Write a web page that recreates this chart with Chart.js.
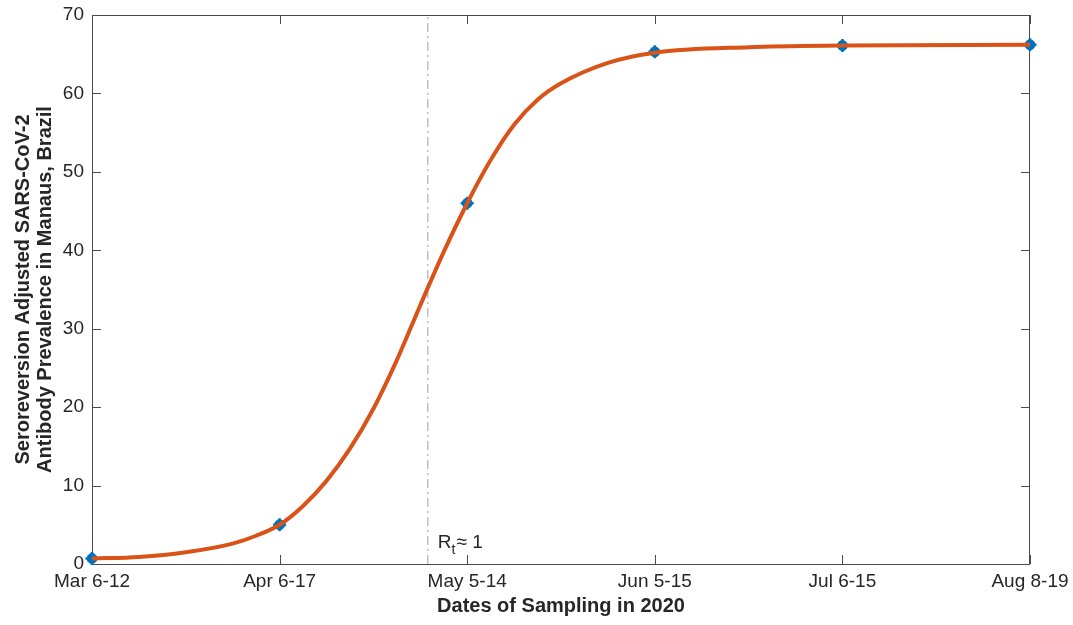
<!DOCTYPE html>
<html>
<head>
<meta charset="utf-8">
<script src="https://cdn.jsdelivr.net/npm/chart.js@4.4.1/dist/chart.umd.min.js"></script>
<style>
  html, body { margin: 0; padding: 0; background: #fff; }
  #wrap { width: 1073px; height: 625px; }
</style>
</head>
<body>
<div id="wrap"><canvas id="canvas1"></canvas></div>
<script>
// sampling rounds and measured prevalence (%)
var dateLabels = ['Mar 6-12', 'Apr 6-17', 'May 5-14', 'Jun 5-15', 'Jul 6-15', 'Aug 8-19'];
var samplePos = [0, 1, 2, 3, 4, 5];
var prevalence = [0.7, 5.0, 46.0, 65.3, 66.1, 66.2];

// fitted curve, read along its length
var fitX = [0, 0.25, 0.5, 0.75, 0.875, 1.0, 1.125, 1.25, 1.375, 1.5, 1.625, 1.75, 1.875, 2.0, 2.125, 2.25, 2.375, 2.5, 2.75, 3.0, 3.5, 4.0, 5.0];
var fitY = [0.7, 0.9, 1.5, 2.6, 3.6, 5.0, 7.4, 10.6, 14.7, 19.8, 26.0, 33.0, 39.8, 46.0, 51.5, 56.0, 59.2, 61.3, 63.9, 65.2, 65.9, 66.1, 66.2];

// week where Rt crosses 1
var rtPos = 1.79;

var blue = '#0072BD', orange = '#D95319', axisColor = '#4a4a4a';
var fontFam = '"Liberation Sans", Arial, sans-serif';

var samples = samplePos.map(function (x, i) { return { x: x, y: prevalence[i] }; });
var fitted = fitX.map(function (x, i) { return { x: x, y: fitY[i] }; });

// box around the plot area with inward ticks, plus the Rt annotation
var boxPlugin = {
    id: 'boxTicks',
    beforeDatasetsDraw: function (chart) {
        var c = chart.ctx, a = chart.chartArea;
        var xs = chart.scales.x, ys = chart.scales.y;
        c.save();
        c.strokeStyle = axisColor;
        c.lineWidth = 1;
        c.strokeRect(a.left + 0.5, a.top + 0.5, a.right - a.left - 1, a.bottom - a.top);
        c.beginPath();
        xs.ticks.forEach(function (t) {
            var px = Math.round(xs.getPixelForValue(t.value)) + 0.5;
            c.moveTo(px, a.bottom); c.lineTo(px, a.bottom - 9);
            c.moveTo(px, a.top); c.lineTo(px, a.top + 9);
        });
        ys.ticks.forEach(function (t) {
            var py = Math.round(ys.getPixelForValue(t.value)) + 0.5;
            c.moveTo(a.left, py); c.lineTo(a.left + 9, py);
            c.moveTo(a.right, py); c.lineTo(a.right - 9, py);
        });
        c.stroke();

        var lx = xs.getPixelForValue(rtPos) + 10, ly = ys.getPixelForValue(0) - 16;
        c.fillStyle = '#262626';
        c.textBaseline = 'alphabetic';
        c.font = '19px ' + fontFam;
        c.fillText('R', lx, ly);
        var w = c.measureText('R').width;
        c.font = '14px ' + fontFam;
        c.fillText('t', lx + w, ly + 6);
        c.font = '19px ' + fontFam;
        c.fillText('\u2248 1', lx + w + 5, ly);
        c.restore();
    }
};

Chart.defaults.font.family = fontFam;
Chart.defaults.color = '#262626';

var ctx1 = document.getElementById('canvas1').getContext('2d');
window.myLine = new Chart(ctx1, {
    type: 'scatter',
    data: {
        datasets: [{
            label: 'Fit',
            type: 'line',
            data: fitted,
            borderColor: orange,
            borderWidth: 4,
            pointRadius: 0,
            cubicInterpolationMode: 'monotone',
            order: 0
        }, {
            label: 'Samples',
            data: samples,
            backgroundColor: blue,
            borderColor: blue,
            pointStyle: 'circle',
            pointRadius: 5,
            borderWidth: 1,
            clip: false,
            order: 2
        }, {
            label: 'Sample bars',
            data: samples,
            borderColor: blue,
            pointStyle: 'cross',
            pointRadius: 6.5,
            borderWidth: 2.5,
            clip: false,
            order: 2
        }, {
            label: 'Rt = 1',
            type: 'line',
            data: [{ x: rtPos, y: 0 }, { x: rtPos, y: 70 }],
            borderColor: '#b0b0b0',
            borderWidth: 1.2,
            borderDash: [9, 4, 2, 4],
            pointRadius: 0,
            order: 3
        }]
    },
    options: {
        responsive: true,
        maintainAspectRatio: false,
        animation: false,
        layout: { padding: { top: 15, right: 43, left: 0, bottom: 0 } },
        plugins: {
            legend: { display: false },
            tooltip: { enabled: false }
        },
        scales: {
            x: {
                type: 'linear',
                min: 0,
                max: 5,
                grid: { display: false, drawTicks: false },
                border: { display: false },
                ticks: {
                    stepSize: 1,
                    padding: 6,
                    font: { size: 19 },
                    maxRotation: 0,
                    callback: function (v) { return dateLabels[v]; }
                },
                title: {
                    display: true,
                    text: 'Dates of Sampling in 2020',
                    font: { size: 20, weight: 'bold' },
                    padding: { top: 0, bottom: 7 }
                },
                afterFit: function (scale) {
                    scale.height = 61;
                    scale.paddingLeft = 0;
                    scale.paddingRight = 0;
                }
            },
            y: {
                min: 0,
                max: 70,
                grid: { display: false, drawTicks: false },
                border: { display: false },
                ticks: { stepSize: 10, padding: 8, font: { size: 19 } },
                title: {
                    display: true,
                    text: ['Seroreversion Adjusted SARS-CoV-2', 'Antibody Prevalence in Manaus, Brazil'],
                    font: { size: 20, weight: 'bold', lineHeight: 1.1 },
                    padding: { top: 12, bottom: 0 }
                },
                afterFit: function (scale) {
                    scale.width = 92;
                    scale.paddingTop = 0;
                    scale.paddingBottom = 0;
                }
            }
        }
    },
    plugins: [boxPlugin]
});
</script>
</body>
</html>
